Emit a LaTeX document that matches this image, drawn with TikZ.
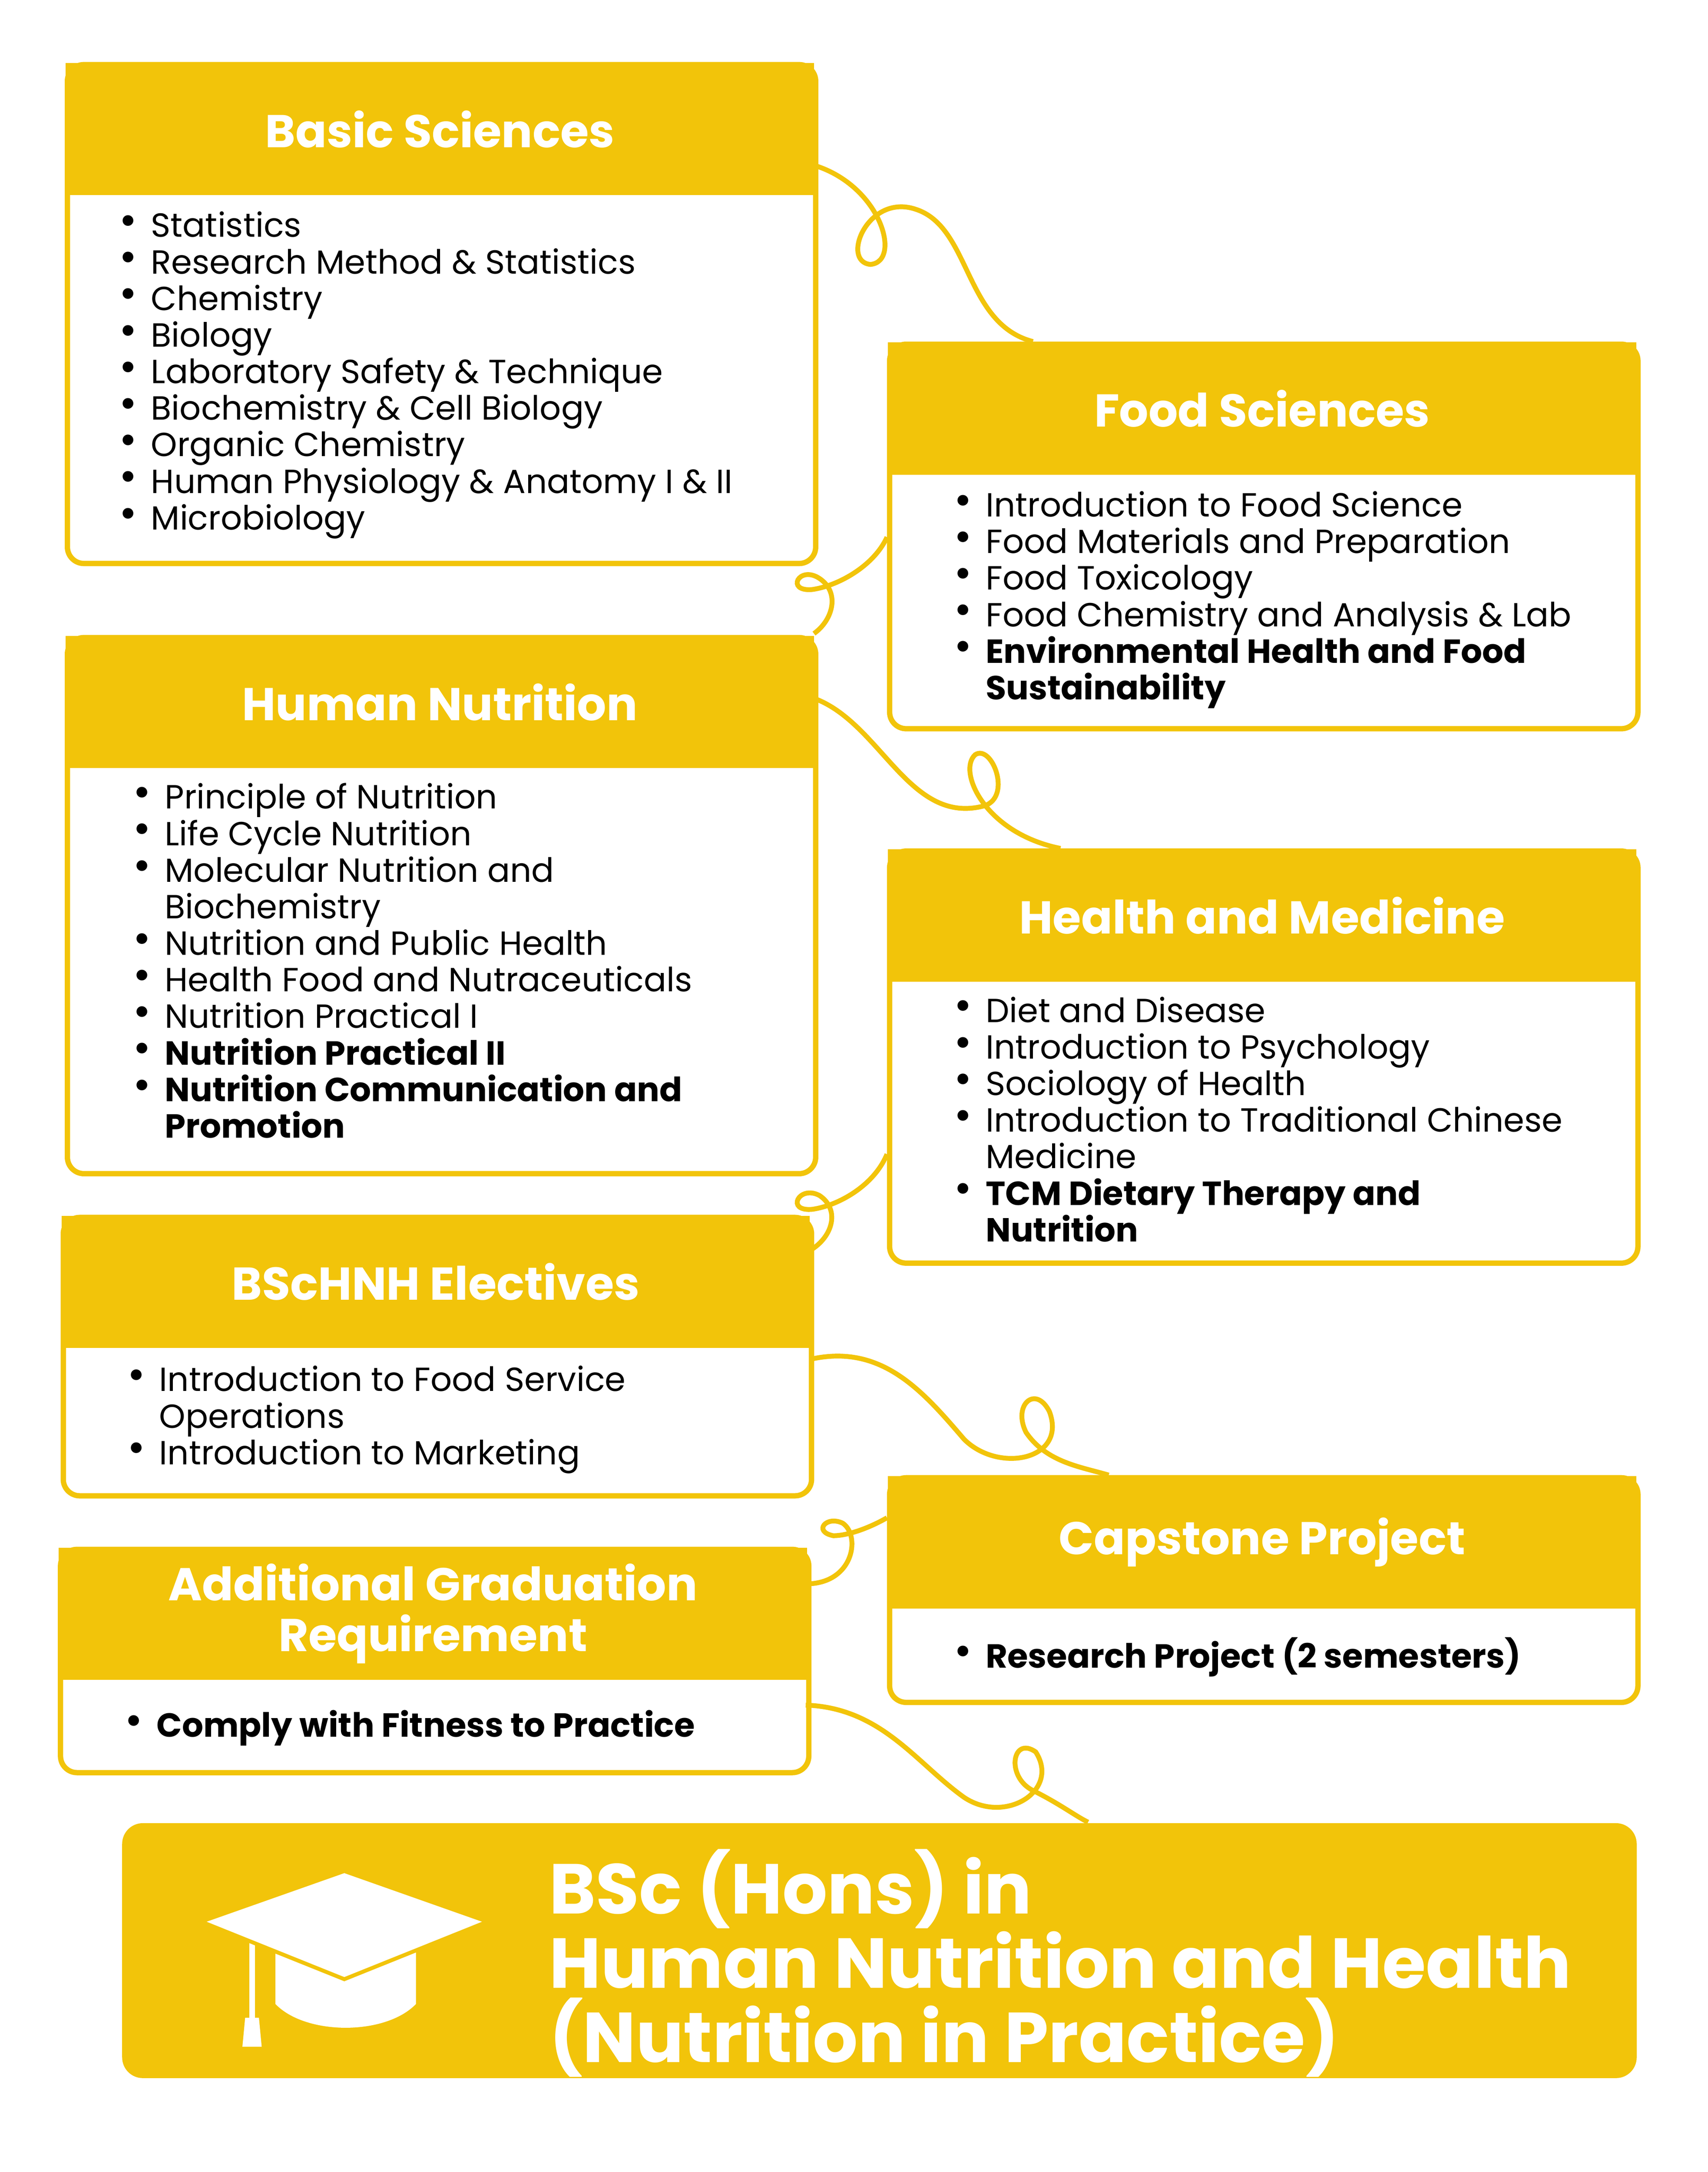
\documentclass[tikz,border=0pt]{standalone}
\usepackage{fontspec}
\setmainfont{Poppins}
\usetikzlibrary{positioning}
\definecolor{gold}{HTML}{F2C40A}
\newcommand{\bul}{\raisebox{0.1ex}{\scalebox{1.3}{\textbullet}}\hspace{1mm}}
\newcommand{\itm}[1]{\bul#1\\}
\newcommand{\cnt}[1]{\phantom{\bul}#1\\}
\begin{document}
\begin{tikzpicture} [
        x=0.01cm, y=-0.01cm,
        headbox/.style={
            rectangle,
            fill=gold,
            text=white,
            anchor=north west,
            minimum width=5.43cm,
            minimum height=0.96cm,
            align=center,
            font=\fontsize{9.5}{10.5}\selectfont\bfseries
        },
        bodybox/.style={
            rectangle,
            draw=gold,
            line width=1.1pt,
            fill=white,
            rounded corners=1.2mm,
            anchor=north west,
            minimum width=5.43cm
        },
        listnode/.style={
            anchor=north west,
            align=left,
            inner sep=0pt,
            font=\fontsize{6.9}{7.55}\selectfont
        },
        curl/.style={gold, line width=1pt}
    ]

    % boxes
    \node[bodybox, minimum height=3.62cm] (bsbody) at (47,45) {};
    \node[headbox] (bs) at (47,45) {Basic Sciences};
    \node[listnode] (bslist) at (86,153) {\itm{Statistics}\itm{Research Method \& Statistics}\itm{Chemistry}\itm{Biology}\itm{Laboratory Safety \& Technique}\itm{Biochemistry \& Cell Biology}\itm{Organic Chemistry}\itm{Human Physiology \& Anatomy I \& II}\itm{Microbiology}};

    \node[bodybox, minimum height=2.79cm] (fsbody) at (644,248) {};
    \node[headbox] (fs) at (644,248) {Food Sciences};
    \node[listnode] (fslist) at (692,356) {\itm{Introduction to Food Science}\itm{Food Materials and Preparation}\itm{Food Toxicology}\itm{Food Chemistry and Analysis \& Lab}\itm{\textbf{Environmental Health and Food}}\cnt{\textbf{Sustainability}}};

    \node[bodybox, minimum height=3.89cm] (hnbody) at (47,461) {};
    \node[headbox] (hn) at (47,461) {Human Nutrition};
    \node[listnode] (hnlist) at (96,568) {\itm{Principle of Nutrition}\itm{Life Cycle Nutrition}\itm{Molecular Nutrition and}\cnt{Biochemistry}\itm{Nutrition and Public Health}\itm{Health Food and Nutraceuticals}\itm{Nutrition Practical I}\itm{\textbf{Nutrition Practical II}}\itm{\textbf{Nutrition Communication and}}\cnt{\textbf{Promotion}}};

    \node[bodybox, minimum height=2.99cm] (hmbody) at (644,616) {};
    \node[headbox] (hm) at (644,616) {Health and Medicine};
    \node[listnode] (hmlist) at (692,723) {\itm{Diet and Disease}\itm{Introduction to Psychology}\itm{Sociology of Health}\itm{Introduction to Traditional Chinese}\cnt{Medicine}\itm{\textbf{TCM Dietary Therapy and}}\cnt{\textbf{Nutrition}}};

    \node[bodybox, minimum height=2.02cm] (elbody) at (44,882) {};
    \node[headbox] (el) at (44,882) {BScHNH Electives};
    \node[listnode] (ellist) at (92,991) {\itm{Introduction to Food Service}\cnt{Operations}\itm{Introduction to Marketing}};

    \node[bodybox, minimum height=1.63cm] (cpbody) at (644,1071) {};
    \node[headbox] (cp) at (644,1071) {Capstone Project};
    \node[listnode] (cplist) at (692,1188) {\itm{\textbf{Research Project (2 semesters)}}};

    \node[bodybox, minimum height=1.62cm] (agbody) at (42,1123) {};
    \node[headbox] (ag) at (42,1123) {Additional Graduation\\Requirement};
    \node[listnode] (aglist) at (90,1241) {\itm{\textbf{Comply with Fitness to Practice}}};

    \node[rectangle, fill=gold, rounded corners=1.5mm, anchor=north west, minimum width=10.99cm, minimum height=1.85cm] (deg) at (88,1323) {};
    \node[anchor=north west, align=left, text=white, inner sep=0pt, font=\fontsize{14.6}{15.3}\selectfont\bfseries] (degtxt) at (398,1342) {BSc (Hons) in\\Human Nutrition and Health\\(Nutrition in Practice)};

    % graduation cap
    \fill[white] (200,1405) -- (302,1405) -- (302,1455) .. controls (280,1478) and (222,1478) .. (200,1455) -- cycle;
    \fill[white] (148,1396) -- (250,1360) -- (352,1396) -- (250,1437) -- cycle;
    \draw[white, line width=1.2pt] (183,1410) -- (183,1470);
    \fill[white] (178,1465) -- (188,1465) -- (190,1486) -- (176,1486) -- cycle;
    \draw[gold, line width=0.8pt] (148,1396) -- (250,1437) -- (352,1396);

    % connectors
    \coordinate (c1a) at (591,120);
    \coordinate (c1b) at (750,248);
    \draw[curl] (c1a) .. controls (640,135) and (655,190) .. (632,192) .. controls (610,190) and (630,140) .. (665,152) .. controls (705,165) and (700,235) .. (c1b);
    \coordinate (c2a) at (644,390);
    \coordinate (c2b) at (591,460);
    \draw[curl] (c2a) .. controls (635,410) and (610,425) .. (590,428) .. controls (570,430) and (580,410) .. (595,420) .. controls (610,430) and (605,450) .. (c2b);
    \coordinate (c3a) at (591,507);
    \coordinate (c3b) at (770,616);
    \draw[curl] (c3a) .. controls (640,525) and (660,600) .. (715,585) .. controls (735,578) and (720,540) .. (708,548) .. controls (695,560) and (715,605) .. (c3b);
    \coordinate (c4a) at (644,838);
    \coordinate (c4b) at (588,908);
    \draw[curl] (c4a) .. controls (635,860) and (610,875) .. (590,878) .. controls (570,880) and (580,860) .. (595,868) .. controls (610,878) and (605,898) .. (c4b);
    \coordinate (c5a) at (588,987);
    \coordinate (c5b) at (805,1071);
    \draw[curl] (c5a) .. controls (640,975) and (670,1010) .. (700,1045) .. controls (725,1070) and (775,1060) .. (762,1025) .. controls (752,1005) and (735,1020) .. (745,1040) .. controls (760,1062) and (785,1065) .. (c5b);
    \coordinate (c6a) at (644,1102);
    \coordinate (c6b) at (585,1150);
    \draw[curl] (c6a) .. controls (630,1110) and (615,1115) .. (605,1115) .. controls (590,1112) and (600,1100) .. (612,1106) .. controls (625,1115) and (620,1150) .. (c6b);
    \coordinate (c7a) at (585,1238);
    \coordinate (c7b) at (790,1323);
    \draw[curl] (c7a) .. controls (640,1240) and (665,1280) .. (700,1305) .. controls (730,1325) and (770,1300) .. (752,1272) .. controls (735,1260) and (730,1290) .. (750,1300) .. controls (770,1310) and (780,1318) .. (c7b);

    \useasboundingbox (0,0) rectangle (1240,1577);
\end{tikzpicture}
\end{document}
